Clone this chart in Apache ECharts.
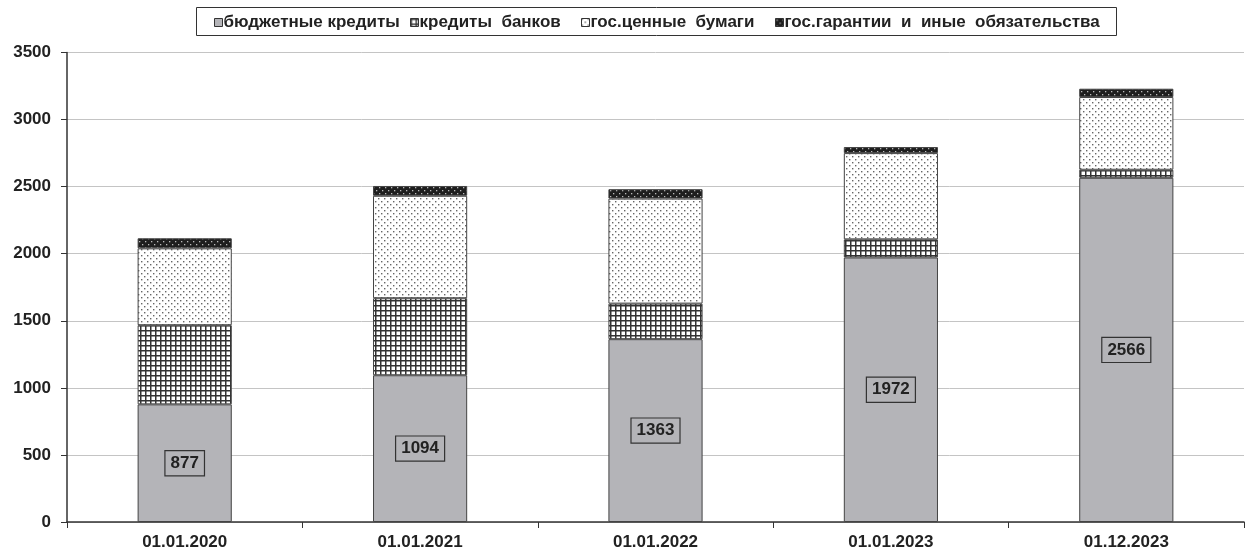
<!DOCTYPE html>
<html>
<head>
<meta charset="utf-8">
<script src="https://cdn.jsdelivr.net/npm/echarts@6/dist/echarts.min.js"></script>
<style>html,body{margin:0;padding:0;background:#fff;}#c{width:1251px;height:553px;}</style>
</head>
<body>
<div id="c"></div>
<script>
const categories = ['01.01.2020','01.01.2021','01.01.2022','01.01.2023','01.12.2023'];
const seriesNames = ['бюджетные кредиты','кредиты  банков','гос.ценные  бумаги','гос.гарантии  и  иные  обязательства'];
const budget = [877, 1094, 1363, 1972, 2566];
const banks = [590, 574, 265, 135, 60];
const securities = [573, 764, 783, 643, 542];
const guarantees = [75, 73, 70, 45, 62];
const yTicks = [0, 500, 1000, 1500, 2000, 2500, 3000, 3500];

function makePattern(kind) {
  const c = document.createElement('canvas');
  const ctx = c.getContext('2d');
  if (kind === 'grid') {
    c.width = 5; c.height = 5;
    ctx.fillStyle = '#ffffff'; ctx.fillRect(0,0,5,5);
    ctx.fillStyle = '#333333';
    ctx.fillRect(0,0,5,1.5);
    ctx.fillRect(0,0,1.5,5);
  } else if (kind === 'dots') {
    c.width = 6; c.height = 6;
    ctx.fillStyle = '#ffffff'; ctx.fillRect(0,0,6,6);
    ctx.fillStyle = '#666666';
    ctx.fillRect(0,0,1.4,1.4);
    ctx.fillRect(3,3,1.4,1.4);
  } else if (kind === 'dark') {
    c.width = 6; c.height = 6;
    ctx.fillStyle = '#1e1e1e'; ctx.fillRect(0,0,6,6);
    ctx.fillStyle = '#bbbbbb';
    ctx.fillRect(1,1,1.3,1.3);
    ctx.fillRect(4,4,1.3,1.3);
  }
  return {image: c, repeat: 'repeat'};
}

const chart = echarts.init(document.getElementById('c'));
const font = 'Liberation Sans, Arial, sans-serif';
const barBase = {type: 'bar', stack: 'total', barWidth: '40%'};
const legendLefts = [214, 410, 581, 775];

const legends = seriesNames.map(function (n, i) {
  return {
    top: 14, left: legendLefts[i], padding: 0,
    data: [n],
    itemWidth: 8, itemHeight: 8,
    icon: 'rect',
    textStyle: {fontFamily: font, fontSize: 17, fontWeight: 'bold', color: '#222', padding: [0,0,0,-4]},
    itemStyle: {borderColor: '#333', borderWidth: 1}
  };
});

chart.setOption({
  animation: false,
  textStyle: {fontFamily: font},
  legend: legends,
  graphic: [{
    type: 'rect', silent: true,
    shape: {x: 196.5, y: 7.5, width: 920, height: 28},
    style: {fill: 'none', stroke: '#333', lineWidth: 1}
  }],
  grid: {left: 67, right: 7, top: 52.5, bottom: 31, containLabel: false},
  xAxis: {
    type: 'category', data: categories,
    axisLine: {lineStyle: {color: '#333', width: 1.5}},
    axisTick: {show: true, inside: false, length: 6, lineStyle: {color: '#333'}},
    axisLabel: {fontFamily: font, fontSize: 17, fontWeight: 'bold', color: '#222', margin: 12}
  },
  yAxis: {
    type: 'value', min: yTicks[0], max: yTicks[yTicks.length-1], interval: 500,
    axisLine: {show: true, lineStyle: {color: '#333', width: 1.5}},
    axisTick: {show: true, length: 6, lineStyle: {color: '#333'}},
    splitLine: {lineStyle: {color: '#c4c4c4', width: 1}},
    axisLabel: {fontFamily: font, fontSize: 17, fontWeight: 'bold', color: '#222', margin: 16,
      formatter: function (v) { return String(v); }}
  },
  series: [
    Object.assign({}, barBase, {name: seriesNames[0], data: budget,
      itemStyle: {color: '#b4b4b8', borderColor: '#444', borderWidth: 1},
      label: {show: true, position: 'inside', formatter: '{c}',
        fontFamily: font, fontSize: 17, fontWeight: 'bold', color: '#222',
        backgroundColor: '#b4b4b8', borderColor: '#333', borderWidth: 1.2,
        padding: [4, 5, 3, 5]}}),
    Object.assign({}, barBase, {name: seriesNames[1], data: banks,
      itemStyle: {color: makePattern('grid'), borderColor: '#444', borderWidth: 1}}),
    Object.assign({}, barBase, {name: seriesNames[2], data: securities,
      itemStyle: {color: makePattern('dots'), borderColor: '#444', borderWidth: 1}}),
    Object.assign({}, barBase, {name: seriesNames[3], data: guarantees,
      itemStyle: {color: makePattern('dark'), borderColor: '#444', borderWidth: 1}})
  ]
});
</script>
</body>
</html>
